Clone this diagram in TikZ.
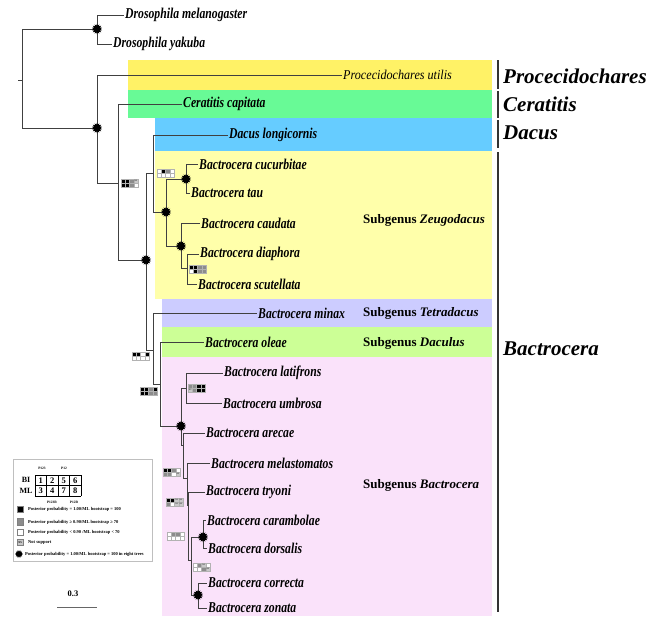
\documentclass[tikz,border=0pt]{standalone}
\usepackage{fontspec}
\setmainfont{Liberation Serif}
\newfontfamily\taxfont[FakeStretch=0.78]{Liberation Serif}
\newfontfamily\procfont[FakeStretch=0.9]{Liberation Serif}
\usetikzlibrary{shapes.geometric}

\definecolor{procyellow}{RGB}{255,242,102}
\definecolor{cergreen}{RGB}{104,250,150}
\definecolor{dacblue}{RGB}{102,204,255}
\definecolor{zeugyellow}{RGB}{255,255,170}
\definecolor{tetralav}{RGB}{204,204,255}
\definecolor{daculgreen}{RGB}{204,255,150}
\definecolor{bactpink}{RGB}{250,226,250}
\definecolor{bk}{RGB}{0,0,0}
\definecolor{gy}{RGB}{140,140,140}
\definecolor{wt}{RGB}{255,255,255}
\definecolor{ns}{RGB}{200,200,200}

\tikzset{
  branch/.style={draw=black!75, line width=0.9pt},
  taxon/.style={anchor=west, inner sep=1pt, font=\taxfont\fontsize{15}{15}\selectfont\bfseries\itshape},
  genus/.style={anchor=west, inner sep=0pt, font=\fontsize{21}{21}\selectfont\bfseries\itshape},
  subgen/.style={anchor=west, inner sep=0pt, font=\fontsize{13}{13}\selectfont\bfseries},
  genusbar/.style={draw=black!80, line width=2pt},
  burst/.style={star, star points=14, star point ratio=1.55, minimum size=10.5pt, inner sep=0pt, fill=black},
  legtext/.style={anchor=west, inner sep=0pt, font=\fontsize{4.5}{5}\selectfont\bfseries},
  gridnum/.style={inner sep=0pt, font=\fontsize{8.5}{9}\selectfont\bfseries},
}

% small 2x4 support grid: position, top row, bottom row
\newcommand{\suppbox}[3]{%
  \begin{scope}[shift={(#1)}]
    \foreach \c [count=\i from 0] in {#2} {%
      \filldraw[fill=\c, draw=gray!60, line width=0.25pt] (\i*4.25,0) rectangle ++(4.25,4);
      \def\tmpns{ns}\edef\tmpc{\c}%
      \ifx\tmpc\tmpns \node[inner sep=0pt, font=\fontsize{2}{2}\selectfont] (nst\i) at (\i*4.25+2.1,2) {NS};\fi}
    \foreach \c [count=\i from 0] in {#3} {%
      \filldraw[fill=\c, draw=gray!60, line width=0.25pt] (\i*4.25,4) rectangle ++(4.25,4);
      \def\tmpns{ns}\edef\tmpc{\c}%
      \ifx\tmpc\tmpns \node[inner sep=0pt, font=\fontsize{2}{2}\selectfont] (nsb\i) at (\i*4.25+2.1,6) {NS};\fi}
  \end{scope}}

\begin{document}
\begin{tikzpicture}[x=1pt,y=-1pt]
  \useasboundingbox (0,0) rectangle (651,619);

  % coloured bands
  \fill[procyellow] (128,60) rectangle (492,90);
  \fill[cergreen] (128,90) rectangle (492,118);
  \fill[dacblue] (155,118) rectangle (492,151);
  \fill[zeugyellow] (155,151) rectangle (492,299);
  \fill[tetralav] (162,299) rectangle (492,327);
  \fill[daculgreen] (162,327) rectangle (492,357);
  \fill[bactpink] (162,357) rectangle (492,616);

  % genus bars and labels
  \draw[genusbar] (498,60) -- (498,89);
  \draw[genusbar] (498,91) -- (498,118);
  \draw[genusbar] (498,120) -- (498,148);
  \draw[genusbar] (498,152) -- (498,612);
  \node[genus] (gpro) at (503,76) {Procecidochares};
  \node[genus] (gcer) at (503,104) {Ceratitis};
  \node[genus] (gdac) at (503,133) {Dacus};
  \node[genus] (gbac) at (503,349) {Bactrocera};

  % subgenus labels
  \node[subgen] (szeu) at (363,220) {Subgenus \textit{Zeugodacus}};
  \node[subgen] (stet) at (363,313) {Subgenus \textit{Tetradacus}};
  \node[subgen] (sdcl) at (363,343) {Subgenus \textit{Daculus}};
  \node[subgen] (sbac) at (363,485) {Subgenus \textit{Bactrocera}};

  % inner nodes
  \coordinate (root) at (22,80);
  \coordinate (rstub) at (18,80);
  \coordinate (nD) at (97,29);
  \coordinate (nA) at (97,128);
  \coordinate (nB) at (118,183);
  \coordinate (nC) at (146,260);
  \coordinate (nDc) at (153,173);
  \coordinate (nZ) at (166,212);
  \coordinate (nZc) at (186,179);
  \coordinate (nZd) at (181,246);
  \coordinate (nZe) at (187,268);
  \coordinate (nE) at (153,350);
  \coordinate (nF) at (160,384);
  \coordinate (nG) at (181,426);
  \coordinate (nH) at (186,388);
  \coordinate (nI) at (183,445);
  \coordinate (nJ) at (187,478);
  \coordinate (nK) at (188,505);
  \coordinate (nL) at (191,560);
  \coordinate (nM) at (203,537);
  \coordinate (nN) at (198,595);

  % taxa
  \node[taxon] (mel) at (124,15) {Drosophila melanogaster};
  \node[taxon] (yak) at (112,44) {Drosophila yakuba};
  \node[taxon, font=\procfont\fontsize{13.5}{13.5}\selectfont\itshape] (pro) at (342,75) {Procecidochares utilis};
  \node[taxon] (cer) at (182,104) {Ceratitis capitata};
  \node[taxon] (dac) at (228,135) {Dacus longicornis};
  \node[taxon] (cuc) at (198,164) {Bactrocera cucurbitae};
  \node[taxon] (tau) at (190,193) {Bactrocera tau};
  \node[taxon] (cau) at (200,223) {Bactrocera caudata};
  \node[taxon] (dia) at (199,254) {Bactrocera diaphora};
  \node[taxon] (scu) at (197,284) {Bactrocera scutellata};
  \node[taxon] (min) at (257,313) {Bactrocera minax};
  \node[taxon] (ole) at (204,342) {Bactrocera oleae};
  \node[taxon] (lat) at (223,373) {Bactrocera latifrons};
  \node[taxon] (umb) at (222,403) {Bactrocera umbrosa};
  \node[taxon] (are) at (205,433) {Bactrocera arecae};
  \node[taxon] (mla) at (210,463) {Bactrocera melastomatos};
  \node[taxon] (try) at (205,492) {Bactrocera tryoni};
  \node[taxon] (car) at (206,520) {Bactrocera carambolae};
  \node[taxon] (dor) at (207,548) {Bactrocera dorsalis};
  \node[taxon] (cor) at (207,583) {Bactrocera correcta};
  \node[taxon] (zon) at (207,608) {Bactrocera zonata};

  % branches
  \draw[branch] (rstub) -- (root);
  \draw[branch] (root) |- (nD);
  \draw[branch] (root) |- (nA);
  \draw[branch] (nD) |- (mel.west);
  \draw[branch] (nD) |- (yak.west);
  \draw[branch] (nA) |- (pro.west);
  \draw[branch] (nA) |- (nB);
  \draw[branch] (nB) |- (cer.west);
  \draw[branch] (nB) |- (nC);
  \draw[branch] (nC) |- (nDc);
  \draw[branch] (nDc) |- (dac.west);
  \draw[branch] (nDc) |- (nZ);
  \draw[branch] (nZ) |- (nZc);
  \draw[branch] (nZc) |- (cuc.west);
  \draw[branch] (nZc) |- (tau.west);
  \draw[branch] (nZ) |- (nZd);
  \draw[branch] (nZd) |- (cau.west);
  \draw[branch] (nZd) |- (nZe);
  \draw[branch] (nZe) |- (dia.west);
  \draw[branch] (nZe) |- (scu.west);
  \draw[branch] (nC) |- (nE);
  \draw[branch] (nE) |- (min.west);
  \draw[branch] (nE) |- (nF);
  \draw[branch] (nF) |- (ole.west);
  \draw[branch] (nF) |- (nG);
  \draw[branch] (nG) |- (nH);
  \draw[branch] (nH) |- (lat.west);
  \draw[branch] (nH) |- (umb.west);
  \draw[branch] (nG) |- (nI);
  \draw[branch] (nI) |- (are.west);
  \draw[branch] (nI) |- (nJ);
  \draw[branch] (nJ) |- (mla.west);
  \draw[branch] (nJ) |- (nK);
  \draw[branch] (nK) |- (try.west);
  \draw[branch] (nK) |- (nL);
  \draw[branch] (nL) |- (nM);
  \draw[branch] (nM) |- (car.west);
  \draw[branch] (nM) |- (dor.west);
  \draw[branch] (nL) |- (nN);
  \draw[branch] (nN) |- (cor.west);
  \draw[branch] (nN) |- (zon.west);

  % support grids
  \suppbox{121,179}{bk,bk,gy,ns}{bk,bk,gy,wt}
  \suppbox{157,169}{wt,bk,gy,wt}{wt,wt,wt,wt}
  \suppbox{189,265}{bk,bk,gy,gy}{wt,bk,gy,gy}
  \suppbox{132,352}{bk,bk,wt,bk}{wt,wt,wt,wt}
  \suppbox{140,387}{bk,bk,gy,bk}{bk,bk,gy,gy}
  \suppbox{188,384}{gy,gy,bk,bk}{ns,gy,bk,bk}
  \suppbox{163,468}{bk,bk,gy,wt}{gy,gy,wt,ns}
  \suppbox{166,498}{bk,bk,ns,ns}{gy,wt,ns,ns}
  \suppbox{167,532}{wt,gy,gy,wt}{wt,wt,wt,wt}
  \suppbox{193,563}{wt,gy,ns,wt}{wt,wt,gy,ns}

  % stars: 1.00 / 100 in all eight trees
  \node[burst] (sD) at (nD) {};
  \node[burst] (sA) at (nA) {};
  \node[burst] (sC) at (nC) {};
  \node[burst] (sZ) at (nZ) {};
  \node[burst] (sZc) at (nZc) {};
  \node[burst] (sZd) at (nZd) {};
  \node[burst] (sG) at (nG) {};
  \node[burst] (sM) at (nM) {};
  \node[burst] (sN) at (nN) {};

  % legend
  \draw[gray!50, line width=0.4pt] (13,459) rectangle (152,561);
  \node[inner sep=0pt, font=\fontsize{3.5}{4}\selectfont\bfseries] (p123) at (42,468) {P123};
  \node[inner sep=0pt, font=\fontsize{3.5}{4}\selectfont\bfseries] (p12) at (64,468) {P12};
  \node[inner sep=0pt, font=\fontsize{3.5}{4}\selectfont\bfseries] (p123r) at (52,502) {P123R};
  \node[inner sep=0pt, font=\fontsize{3.5}{4}\selectfont\bfseries] (p12r) at (74,502) {P12R};
  \node[gridnum, font=\fontsize{8}{8}\selectfont\bfseries] (lbi) at (26,480) {BI};
  \node[gridnum, font=\fontsize{8}{8}\selectfont\bfseries] (lml) at (26,491) {ML};
  \foreach \i in {0,...,4} {\draw[black, line width=0.6pt] (35+\i*11.5,475) -- (35+\i*11.5,496);}
  \foreach \j in {0,1,2} {\draw[black, line width=0.6pt] (35,475+\j*10.5) -- (81,475+\j*10.5);}
  \foreach \n [count=\i from 0] in {1,2,5,6} {\node[gridnum] (gt\i) at (40.75+\i*11.5,480.5) {\n};}
  \foreach \n [count=\i from 0] in {3,4,7,8} {\node[gridnum] (gb\i) at (40.75+\i*11.5,491) {\n};}

  \filldraw[fill=bk, draw=gray] (17,506) rectangle (23.5,512.5);
  \node[legtext] (l1) at (28,509) {Posterior probability = 1.00/ML bootstrap = 100};
  \filldraw[fill=gy, draw=gray] (17,518.5) rectangle (23.5,525);
  \node[legtext] (l2) at (28,522) {Posterior probability ≥ 0.90/ML bootstrap ≥ 70};
  \filldraw[fill=wt, draw=gray] (17,529) rectangle (23.5,535.5);
  \node[legtext] (l3) at (28,532) {Posterior probability \textless{} 0.90 /ML bootstrap \textless{} 70};
  \filldraw[fill=ns, draw=gray] (17,539) rectangle (23.5,545.5);
  \node[inner sep=0pt, font=\fontsize{2.8}{3}\selectfont\bfseries] (lns) at (20.25,542.25) {NS};
  \node[legtext] (l4) at (28,542) {Not support};
  \node[burst, minimum size=8pt] (lstar) at (19,554) {};
  \node[legtext] (l5) at (25,554) {Posterior probability = 1.00/ML bootstrap = 100 in eight trees};

  % scale bar
  \coordinate (sb1) at (57,607);
  \coordinate (sb2) at (97,607);
  \draw[gray!80!black, line width=0.9pt] (sb1) -- (sb2);
  \node[inner sep=0pt, font=\fontsize{8.5}{9}\selectfont\bfseries] (sblab) at (73,594) {0.3};
\end{tikzpicture}
\end{document}
